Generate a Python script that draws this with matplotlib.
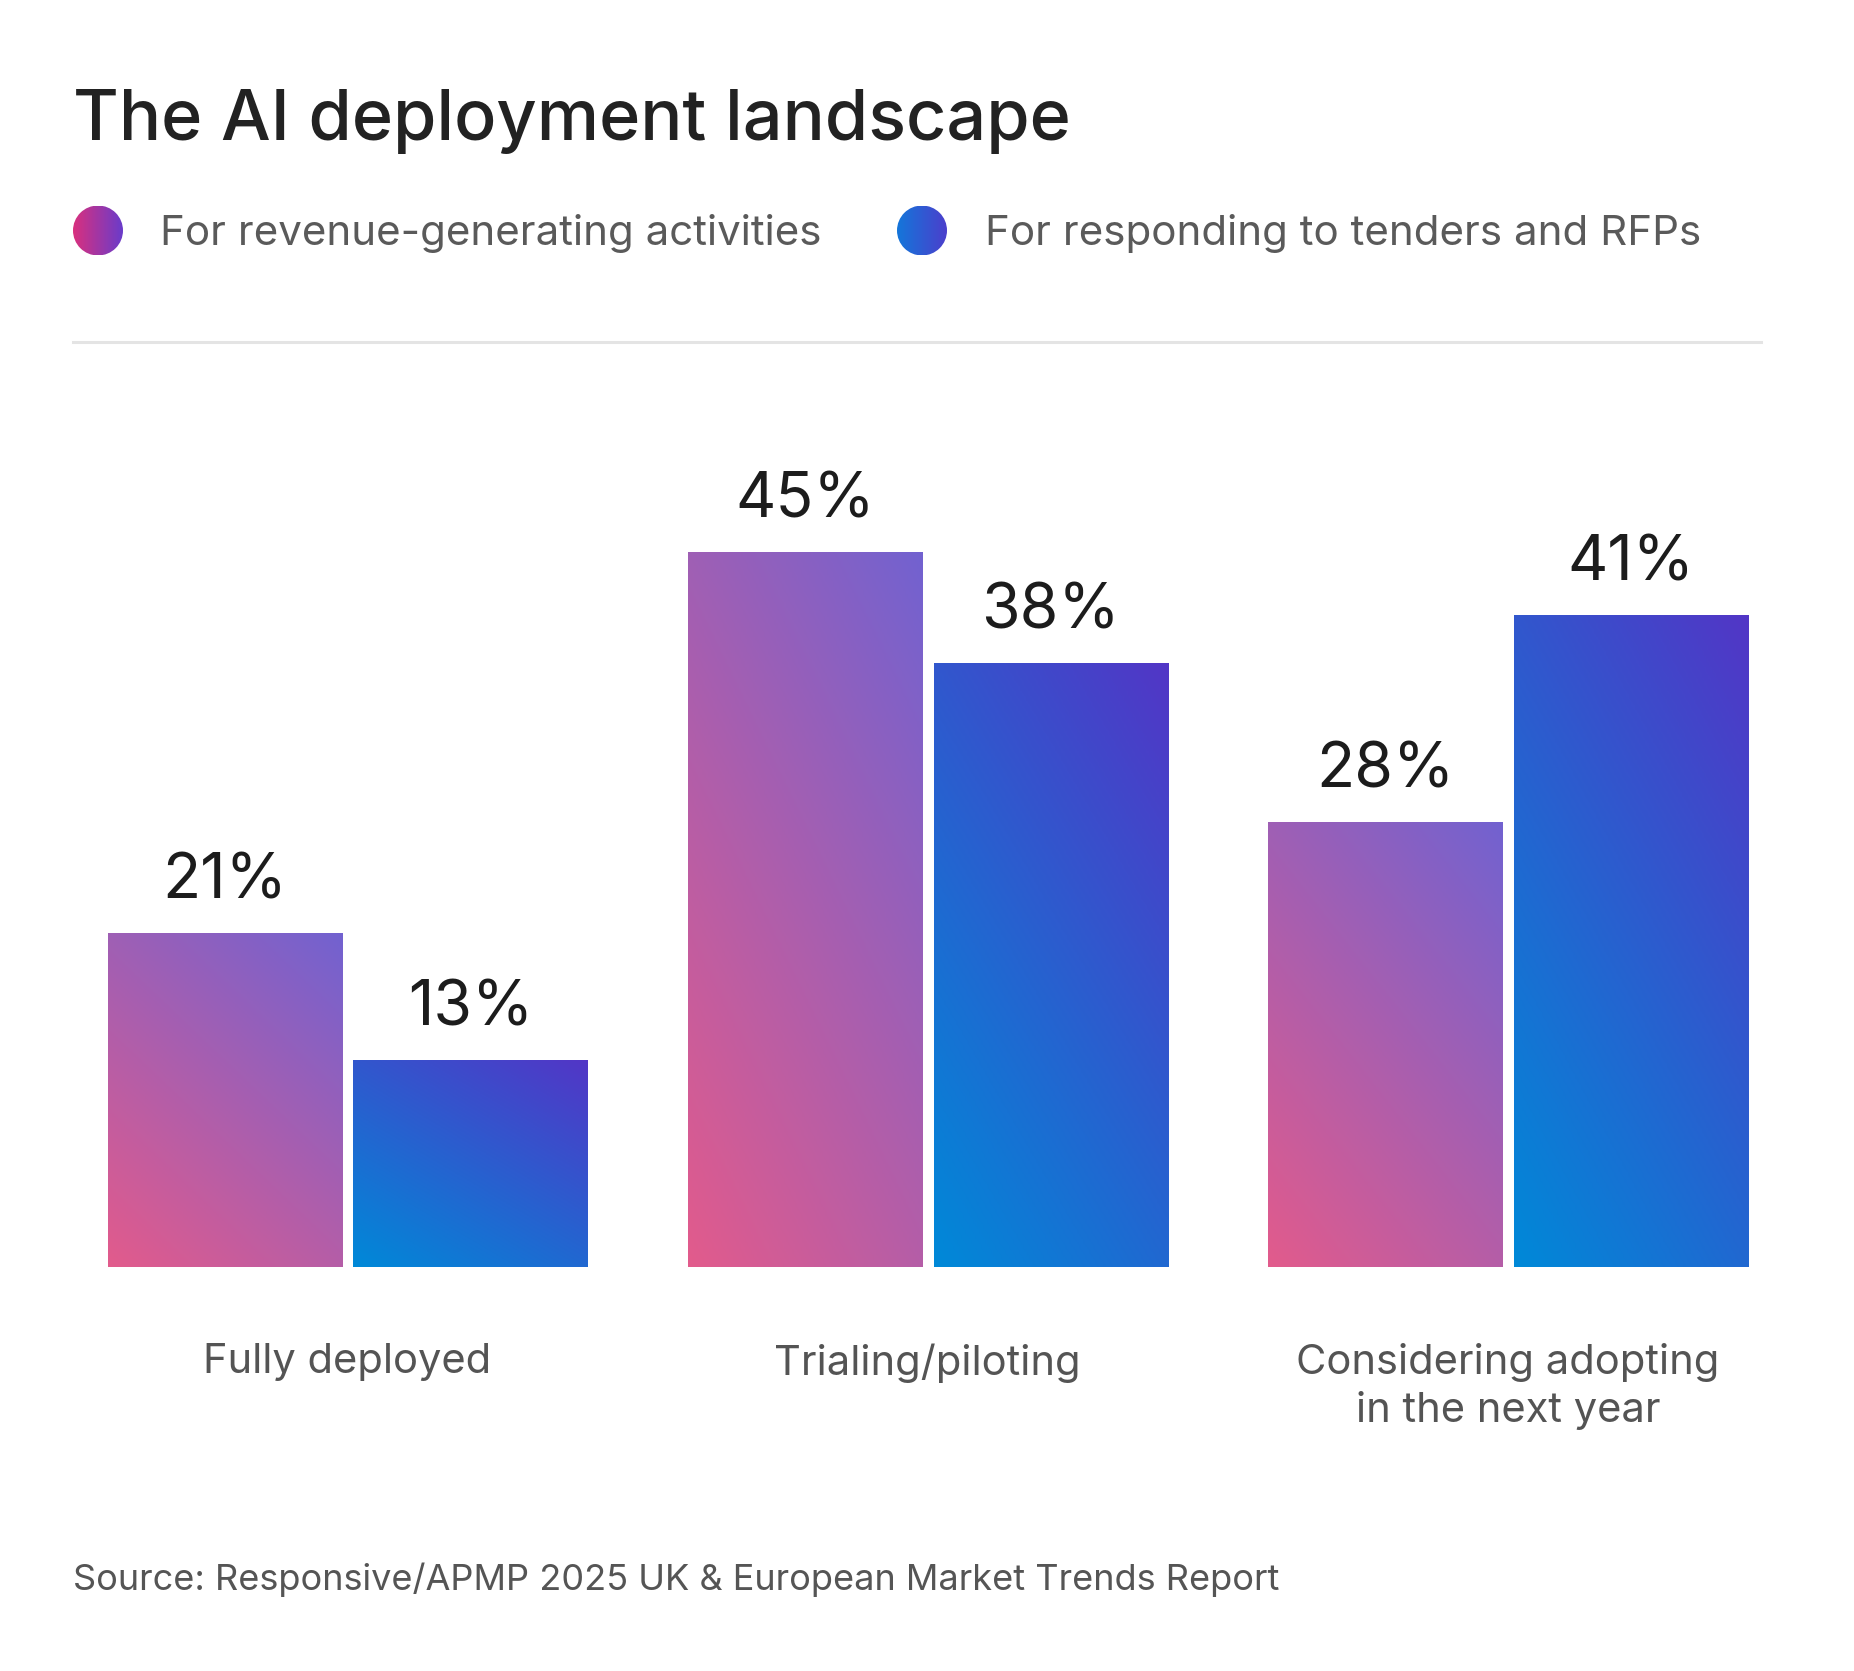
import matplotlib
matplotlib.use("Agg")
import matplotlib.pyplot as plt
import numpy as np
from matplotlib.colors import LinearSegmentedColormap
from matplotlib.lines import Line2D
from matplotlib.patches import Circle

plt.rcParams['font.family'] = ['Inter', 'DejaVu Sans']

title = "The AI deployment landscape"
source = "Source: Responsive/APMP 2025 UK & European Market Trends Report"
categories = ["Fully deployed", "Trialing/piloting", "Considering adopting\nin the next year"]
series_names = ["For revenue-generating activities", "For responding to tenders and RFPs"]
revenue = [21, 45, 28]
tenders = [13, 38, 41]

# gradient colours (bottom-left -> top-right)
pink_cmap = LinearSegmentedColormap.from_list("pink", ["#e25b8c", "#7262d0"])
blue_cmap = LinearSegmentedColormap.from_list("blue", ["#0089d8", "#5236c6"])
pink_dot = LinearSegmentedColormap.from_list("pdot", ["#d9307e", "#6a3cca"])
blue_dot = LinearSegmentedColormap.from_list("bdot", ["#1476da", "#4b3fcc"])

W, H = 1854, 1671
fig = plt.figure(figsize=(W / 100, H / 100), dpi=100)
fig.patch.set_facecolor("white")


def fx(px):
    return px / W


def fy(py):
    return 1 - py / H


# grid used for the diagonal gradient inside each bar
u, v = np.meshgrid(np.linspace(0, 1, 120), np.linspace(0, 1, 240))
grad = 0.4 * u + 0.6 * v

ax = fig.add_axes([fx(73), fy(1267), fx(1761) - fx(73), fy(400) - fy(1267)])
x = np.arange(len(categories))
bw = 0.4033
off = 0.2118

for vals, cmap, sign in [(revenue, pink_cmap, -1), (tenders, blue_cmap, 1)]:
    bars = ax.bar(x + sign * off, vals, width=bw, facecolor="none", edgecolor="none")
    for b, val in zip(bars, vals):
        x0, y0 = b.get_x(), b.get_y()
        im = ax.imshow(grad, cmap=cmap, origin="lower", aspect="auto",
                       extent=(x0, x0 + b.get_width(), y0, y0 + b.get_height()),
                       vmin=0, vmax=1, zorder=2)
        im.set_clip_path(b)
        ax.annotate(f"{val}%", (x0 + b.get_width() / 2, y0 + b.get_height()),
                    xytext=(0, 25), textcoords="offset points", ha="center",
                    va="baseline", fontsize=45, color="#1c1c1c", annotation_clip=False)

# group centres at 347.5, 928, 1508 px
ax.set_xlim(-(347.5 - 73) / 580.3, 2 + (1761 - 1508) / 580.3)
ax.set_ylim(0, 54.56)
ax.set_xticks(x)
ax.set_xticklabels(categories, fontsize=30, color="#545454", linespacing=1.27, va="top")
ax.tick_params(axis="x", length=0, pad=55)
ax.set_yticks([])
for s in ax.spines.values():
    s.set_visible(False)
ax.patch.set_alpha(0)

# title, legend, divider, source
fig.text(fx(73), fy(139.5), title, fontsize=50.5, color="#222222", fontweight="medium",
         va="baseline", ha="left")

for name, cmap, cx, tx in [(series_names[0], pink_dot, 98, 159.6),
                           (series_names[1], blue_dot, 922, 984.6)]:
    dax = fig.add_axes([fx(cx - 25), fy(255.5), 50 / W, 50 / H])
    dax.set_axis_off()
    dax.set_xlim(0, 1)
    dax.set_ylim(0, 1)
    gim = dax.imshow(u, cmap=cmap, origin="lower", aspect="auto", extent=(0, 1, 0, 1))
    c = Circle((0.5, 0.5), 0.5, transform=dax.transData)
    gim.set_clip_path(c)
    fig.text(fx(tx), fy(245), name, fontsize=30.3, color="#5a5a5a", va="baseline", ha="left")

fig.add_artist(Line2D([fx(73), fx(1761)], [fy(341.6), fy(341.6)], color="#e4e4e4",
                      lw=2.2, transform=fig.transFigure))

fig.text(fx(73), fy(1590), source, fontsize=26, color="#555555", va="baseline", ha="left")

fig.savefig("out.png", dpi=100, facecolor="white")
